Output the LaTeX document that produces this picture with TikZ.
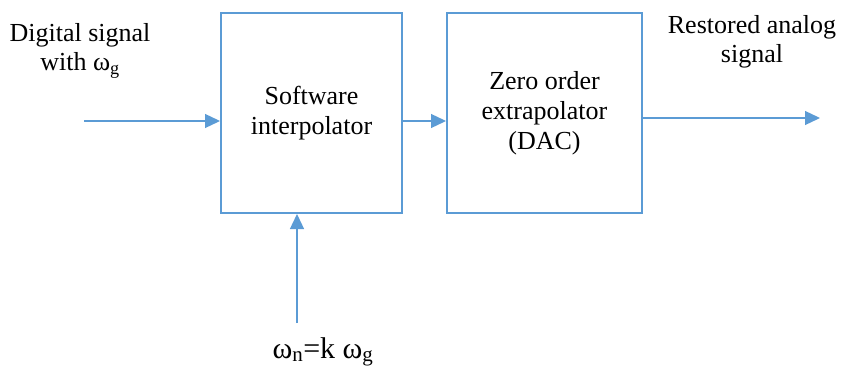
\documentclass[tikz,border=0pt]{standalone}
\usepackage{fontspec}
\setmainfont{Liberation Serif}
\usetikzlibrary{arrows.meta}
\definecolor{lineblue}{HTML}{5B9BD5}
\begin{document}
\begin{tikzpicture}[x=1pt,y=-1pt,
  blockbox/.style={draw=lineblue,line width=2pt,minimum height=200pt,inner sep=0pt,align=center,font=\fontsize{26}{30}\selectfont},
  sig/.style={draw=lineblue,line width=1.3pt,-{Triangle[length=15pt,width=14pt]}},
  lbl/.style={align=center,inner sep=0pt,font=\fontsize{26}{29}\selectfont}]
\useasboundingbox (0,0) rectangle (844,369);
\node[blockbox,minimum width=181pt] (interp) at (311.5,113) {Software\\interpolator};
\node[blockbox,minimum width=195pt] (dac) at (544.5,113) {Zero order\\extrapolator\\(DAC)};
\coordinate (in) at (84,121);
\coordinate (out) at (820,118);
\coordinate (up) at (297,323);
\draw[sig] (in) -- (in -| interp.west);
\draw[sig] (interp.east |- in) -- (dac.west |- in);
\draw[sig] (out -| dac.east) -- (out);
\draw[sig] (up) -- (up |- interp.south);
\node[lbl] (inlbl) at (80,51) {Digital signal\\with ω\textsubscript{g}};
\node[lbl] (outlbl) at (752,42) {Restored analog\\signal};
\node[anchor=base,inner sep=0pt,font=\fontsize{30}{34}\selectfont] (freq) at (323,358) {ω\textsubscript{n}=k ω\textsubscript{g}};
\end{tikzpicture}
\end{document}
